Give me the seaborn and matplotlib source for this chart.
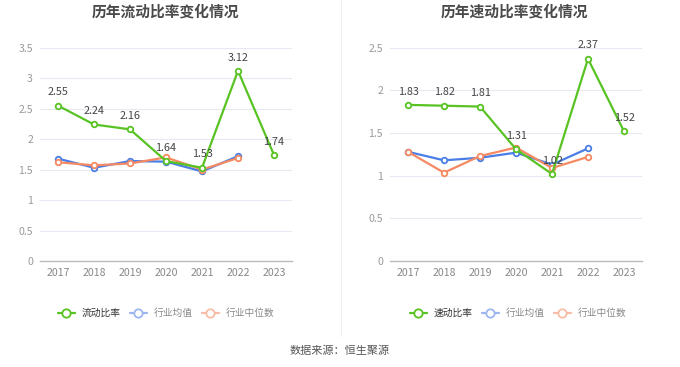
import numpy as np
import pandas as pd
import matplotlib
matplotlib.use("Agg")
import matplotlib.pyplot as plt
import seaborn as sns
from matplotlib.lines import Line2D

years = [2017, 2018, 2019, 2020, 2021, 2022, 2023]

current_ratio = [2.55, 2.24, 2.16, 1.64, 1.53, 3.12, 1.74]
current_mean = [1.68, 1.53, 1.64, 1.63, 1.47, 1.72, np.nan]
current_median = [1.62, 1.57, 1.60, 1.70, 1.50, 1.69, np.nan]

quick_ratio = [1.83, 1.82, 1.81, 1.31, 1.02, 2.37, 1.52]
quick_mean = [1.28, 1.18, 1.21, 1.27, 1.13, 1.32, np.nan]
quick_median = [1.28, 1.035, 1.23, 1.33, 1.09, 1.22, np.nan]

left_ticks = [0, 0.5, 1, 1.5, 2, 2.5, 3, 3.5]
right_ticks = [0, 0.5, 1, 1.5, 2, 2.5]

titles = ["历年流动比率变化情况", "历年速动比率变化情况"]
legend_left = ["流动比率", "行业均值", "行业中位数"]
legend_right = ["速动比率", "行业均值", "行业中位数"]
source = "数据来源：恒生聚源"

GREEN = "#58c322"
BLUE = "#4a7ee6"
ORANGE = "#f58a62"

sns.set_style("white")
plt.rcParams['font.family'] = ['Noto Sans CJK SC', 'DejaVu Sans']

W, H = 680, 367
fig = plt.figure(figsize=(W / 100, H / 100), dpi=100)


def px_rect(x0, y0, x1, y1):
    return [x0 / W, 1 - y1 / H, (x1 - x0) / W, (y1 - y0) / H]


def draw_panel(ax, main, mean, median, ticks, ymax):
    df = pd.DataFrame({"year": years, "main": main, "mean": mean, "median": median})
    for col, color in [("mean", BLUE), ("median", ORANGE), ("main", GREEN)]:
        sub = df.dropna(subset=[col])
        sns.lineplot(data=sub, x="year", y=col, ax=ax, color=color, lw=1.6,
                     marker="o", markersize=4, markerfacecolor="white",
                     markeredgecolor=color, markeredgewidth=1.3, zorder=3 if col == "main" else 2)
    for x, v in zip(years, main):
        ax.annotate(f"{v:.2f}", (x, v), xytext=(0, 6), textcoords="offset points",
                    ha="center", va="bottom", fontsize=7.8, color="#444444", zorder=5)
    ax.set_xlim(years[0] - 0.5, years[-1] + 0.5)
    ax.set_ylim(0, ymax)
    ax.set_yticks(ticks)
    ax.set_yticklabels([f"{t:g}" for t in ticks])
    ax.set_xticks(years)
    ax.set_xticklabels([str(y) for y in years])
    ax.grid(axis="y", color="#e6e8f2", lw=0.8)
    ax.set_axisbelow(True)
    for s in ["top", "right", "left"]:
        ax.spines[s].set_visible(False)
    ax.spines["bottom"].set_color("#bbbbbb")
    ax.spines["bottom"].set_linewidth(1.0)
    ax.tick_params(axis="x", length=3, color="#bbbbbb", labelsize=7.6, labelcolor="#888888", pad=2)
    ax.tick_params(axis="y", length=0, labelsize=7.6, labelcolor="#999999", pad=5)
    ax.set_xlabel("")
    ax.set_ylabel("")


ax1 = fig.add_axes(px_rect(40, 47.7, 292, 261))
ax2 = fig.add_axes(px_rect(390, 47.7, 642, 261))
draw_panel(ax1, current_ratio, current_mean, current_median, left_ticks, 3.5)
draw_panel(ax2, quick_ratio, quick_mean, quick_median, right_ticks, 2.5)

fig.text(165 / W, 1 - 12 / H, titles[0], ha="center", va="center", fontsize=10.6,
         fontweight="bold", color="#4a4a4a")
fig.text(514 / W, 1 - 12 / H, titles[1], ha="center", va="center", fontsize=10.6,
         fontweight="bold", color="#4a4a4a")

fig.add_artist(Line2D([341 / W, 341 / W], [1 - 0 / H, 1 - 336 / H], color="#eeeeee", lw=0.8))


def make_legend(center_x, labels):
    handles = [
        Line2D([], [], color=GREEN, lw=1.6, marker="o", markersize=6, markerfacecolor="white",
               markeredgecolor=GREEN, markeredgewidth=1.3),
        Line2D([], [], color="#9bb6f0", lw=1.6, marker="o", markersize=6, markerfacecolor="white",
               markeredgecolor="#9bb6f0", markeredgewidth=1.3),
        Line2D([], [], color="#f8bca6", lw=1.6, marker="o", markersize=6, markerfacecolor="white",
               markeredgecolor="#f8bca6", markeredgewidth=1.3),
    ]
    leg = fig.legend(handles, labels, loc="center", bbox_to_anchor=(center_x / W, 1 - 313 / H),
                     ncol=3, frameon=False, fontsize=7, handlelength=1.75, handletextpad=0.7,
                     columnspacing=0.95, borderpad=0, borderaxespad=0)
    cols = ["#333333", "#888888", "#888888"]
    for t, c in zip(leg.get_texts(), cols):
        t.set_color(c)


make_legend(166, legend_left)
make_legend(518, legend_right)

fig.text(340 / W, 1 - 351 / H, source, ha="center", va="center", fontsize=8, color="#555555")

fig.savefig("out.png", dpi=100)
